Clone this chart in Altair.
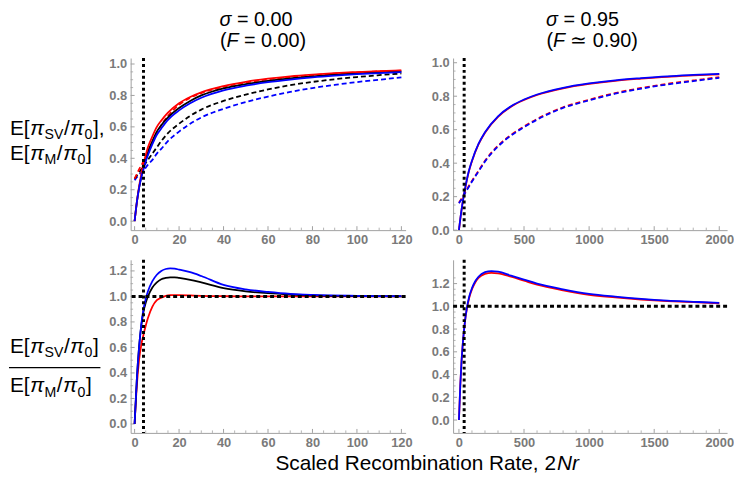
import altair as alt
import pandas as pd

# ---------------- data ----------------
# sigma = 0.00, top panel: E[pi/pi0]
x_tl = [0, 1, 2, 3, 4, 5, 6, 8, 10, 12, 15, 20, 25, 30, 40, 50, 60, 70, 80, 90, 100, 110, 120]
tl_red_solid = [0, 0.12, 0.22, 0.30, 0.37, 0.42, 0.47, 0.54, 0.60, 0.64, 0.69, 0.75, 0.79, 0.82, 0.86, 0.887, 0.907, 0.922, 0.933, 0.942, 0.949, 0.955, 0.96]
tl_red_dash = [0.27, 0.30, 0.33, 0.355, 0.38, 0.41, 0.44, 0.50, 0.56, 0.61, 0.67, 0.74, 0.785, 0.815, 0.855, 0.882, 0.902, 0.917, 0.929, 0.939, 0.947, 0.953, 0.958]
tl_black_solid = [0, 0.12, 0.21, 0.28, 0.34, 0.39, 0.44, 0.51, 0.57, 0.61, 0.66, 0.72, 0.765, 0.80, 0.845, 0.872, 0.892, 0.908, 0.921, 0.932, 0.940, 0.947, 0.953]
tl_black_dash = [0.27, 0.29, 0.31, 0.33, 0.35, 0.37, 0.39, 0.43, 0.47, 0.51, 0.56, 0.62, 0.67, 0.71, 0.765, 0.805, 0.838, 0.865, 0.886, 0.903, 0.917, 0.929, 0.94]
tl_blue_solid = [0, 0.12, 0.21, 0.28, 0.33, 0.38, 0.42, 0.49, 0.55, 0.59, 0.645, 0.705, 0.75, 0.785, 0.832, 0.862, 0.884, 0.901, 0.915, 0.926, 0.935, 0.942, 0.948]
tl_blue_dash = [0.26, 0.28, 0.295, 0.31, 0.325, 0.34, 0.36, 0.39, 0.43, 0.46, 0.51, 0.57, 0.62, 0.66, 0.715, 0.758, 0.793, 0.822, 0.847, 0.867, 0.885, 0.90, 0.915]

# sigma = 0.95, top panel
x_tr = [0, 10, 25, 50, 75, 100, 150, 200, 300, 400, 500, 600, 800, 1000, 1200, 1400, 1600, 1800, 2000]
tr_red_solid = [0, 0.064, 0.147, 0.257, 0.347, 0.412, 0.512, 0.582, 0.677, 0.737, 0.777, 0.807, 0.847, 0.873, 0.892, 0.905, 0.916, 0.924, 0.931]
tr_blue_solid = [0, 0.066, 0.15, 0.26, 0.35, 0.415, 0.515, 0.585, 0.68, 0.74, 0.78, 0.81, 0.85, 0.876, 0.895, 0.908, 0.919, 0.927, 0.934]
tr_red_dash = [0.164, 0.176, 0.194, 0.229, 0.262, 0.294, 0.354, 0.414, 0.504, 0.569, 0.619, 0.664, 0.734, 0.779, 0.819, 0.849, 0.874, 0.894, 0.914]
tr_blue_dash = [0.16, 0.172, 0.19, 0.225, 0.258, 0.29, 0.35, 0.41, 0.50, 0.565, 0.615, 0.66, 0.73, 0.775, 0.815, 0.845, 0.87, 0.89, 0.91]

# sigma = 0.00, bottom panel: ratio
x_bl = [0, 1, 2, 3, 4, 5, 6, 8, 10, 12, 14, 16, 18, 20, 25, 30, 40, 50, 60, 70, 80, 100, 120]
bl_blue = [0, 0.35, 0.60, 0.78, 0.90, 0.98, 1.04, 1.12, 1.17, 1.20, 1.215, 1.22, 1.218, 1.21, 1.19, 1.16, 1.09, 1.055, 1.035, 1.02, 1.012, 1.005, 1.002]
bl_black = [0, 0.35, 0.60, 0.77, 0.88, 0.95, 1.00, 1.07, 1.11, 1.135, 1.145, 1.15, 1.15, 1.145, 1.13, 1.11, 1.065, 1.04, 1.025, 1.015, 1.008, 1.003, 1.001]
bl_red = [0, 0.30, 0.50, 0.62, 0.70, 0.77, 0.83, 0.92, 0.97, 0.99, 1.005, 1.01, 1.01, 1.01, 1.008, 1.005, 1.002, 1.0, 1.0, 1.0, 1.0, 1.0, 1.0]

# sigma = 0.95, bottom panel
x_br = [0, 10, 20, 30, 40, 50, 60, 80, 100, 125, 150, 200, 250, 300, 400, 500, 600, 800, 1000, 1200, 1400, 1600, 1800, 2000]
br_blue = [0, 0.30, 0.52, 0.68, 0.80, 0.90, 0.98, 1.09, 1.16, 1.22, 1.26, 1.30, 1.31, 1.305, 1.27, 1.235, 1.20, 1.15, 1.11, 1.085, 1.065, 1.05, 1.04, 1.03]
br_red = [0, 0.30, 0.52, 0.68, 0.80, 0.90, 0.97, 1.08, 1.15, 1.21, 1.25, 1.285, 1.295, 1.29, 1.26, 1.225, 1.19, 1.14, 1.10, 1.078, 1.06, 1.046, 1.036, 1.027]

vline_left = [4]
vline_right = [40]
hline_ratio = [1.0]

ticks_x_left = [0, 20, 40, 60, 80, 100, 120]
ticks_x_left_minor = [5, 10, 15, 25, 30, 35, 45, 50, 55, 65, 70, 75, 85, 90, 95, 105, 110, 115]
ticks_x_right = [0, 500, 1000, 1500, 2000]
ticks_x_right_minor = [100, 200, 300, 400, 600, 700, 800, 900, 1100, 1200, 1300, 1400, 1600, 1700, 1800, 1900]
ticks_y_top = [0.0, 0.2, 0.4, 0.6, 0.8, 1.0]
ticks_y_bot = [0.0, 0.2, 0.4, 0.6, 0.8, 1.0, 1.2]
ticks_y_minor_top = [0.05, 0.1, 0.15, 0.25, 0.3, 0.35, 0.45, 0.5, 0.55, 0.65, 0.7, 0.75, 0.85, 0.9, 0.95]
ticks_y_minor_bot = ticks_y_minor_top + [1.05, 1.1, 1.15, 1.25]

FONT = "Liberation Sans"
RED = "#ff0000"
BLUE = "#0000ff"
BLACK = "#000000"
GRAY = "#a0a0a0"

one = pd.DataFrame({"a": [0]})

W = {'E': .667, '[': .278, ']': .278, '/': .278, ',': .278, 'S': .667, 'V': .667, 'M': .833,
     '0': .556, 'π': .66, '(': .333, ')': .333, 'F': .611, '=': .584, ' ': .278, '.': .278,
     '9': .556, '5': .556, 'σ': .58, '≃': .584, '2': .556, 'N': .722, 'r': .333}


def txt(t, x, y, size, italic=False, align="left"):
    return alt.Chart(one).mark_text(
        text=t, font=FONT, fontSize=size,
        fontStyle="italic" if italic else "normal",
        align=align, baseline="middle", color="black",
    ).encode(x=alt.value(x), y=alt.value(y))


def segs(pieces, x0, yc, size):
    charts = []
    x = x0
    for t, it, sub in pieces:
        fs = size * 0.68 if sub else size
        dy = size * 0.3 if sub else 0
        charts.append(txt(t, x, yc + dy, fs, it))
        x += sum(W.get(c, .556) for c in t) * fs + 0.6
    return charts, x


def panel(w, h, xd, yd, xmaj, xmin, ymaj, ymin, series, vx, hy=None, extra=None):
    xs = alt.Scale(domain=xd, nice=False, zero=False)
    ys = alt.Scale(domain=yd, nice=False, zero=False)
    xax = alt.Axis(values=xmaj, format="d", title=None)
    yax = alt.Axis(values=ymaj, format=".1f", title=None)
    layers = []
    layers.append(alt.Chart(pd.DataFrame({"x": xmaj})).mark_rule(color=GRAY, strokeWidth=1)
                  .encode(x=alt.X("x:Q", scale=xs, axis=xax), y=alt.value(h), y2=alt.value(h - 4)))
    layers.append(alt.Chart(pd.DataFrame({"x": xmin})).mark_rule(color=GRAY, strokeWidth=0.8)
                  .encode(x=alt.X("x:Q", scale=xs, axis=xax), y=alt.value(h), y2=alt.value(h - 2.5)))
    layers.append(alt.Chart(pd.DataFrame({"y": ymaj})).mark_rule(color=GRAY, strokeWidth=1)
                  .encode(y=alt.Y("y:Q", scale=ys, axis=yax), x=alt.value(0), x2=alt.value(4)))
    layers.append(alt.Chart(pd.DataFrame({"y": ymin})).mark_rule(color=GRAY, strokeWidth=0.8)
                  .encode(y=alt.Y("y:Q", scale=ys, axis=yax), x=alt.value(0), x2=alt.value(2.5)))
    for xv, yv, color, dash in series:
        df = pd.DataFrame({"x": xv, "y": yv})
        kw = dict(color=color, strokeWidth=1.8, interpolate="monotone", clip=True)
        if dash:
            kw["strokeDash"] = [5, 3]
        layers.append(alt.Chart(df).mark_line(**kw).encode(
            x=alt.X("x:Q", scale=xs, axis=xax), y=alt.Y("y:Q", scale=ys, axis=yax)))
    layers.append(alt.Chart(pd.DataFrame({"x": vx})).mark_rule(color="black", strokeWidth=3, strokeDash=[3, 3])
                  .encode(x=alt.X("x:Q", scale=xs, axis=xax)))
    if hy is not None:
        layers.append(alt.Chart(pd.DataFrame({"y": hy})).mark_rule(color="black", strokeWidth=3, strokeDash=[4, 3])
                      .encode(y=alt.Y("y:Q", scale=ys, axis=yax)))
    if extra:
        layers += extra
    return alt.layer(*layers).properties(width=w, height=h)


WL, WR = 278, 277
H1, H2 = 174, 175
TS = 20  # title font size
SP = 0.278 * TS
LS = 21  # row label font size

# --- column titles ---
title_l = [
    txt("σ", 102, -38, TS, True, "right"), txt("= 0.00", 102 + SP, -38, TS),
    txt("(", 97, -17, TS, False, "right"), txt("F", 97, -17, TS, True), txt("= 0.00)", 109 + SP, -17, TS),
]
title_r = [
    txt("σ", 106, -38, TS, True, "right"), txt("= 0.95", 106 + SP, -38, TS),
    txt("(", 101, -17, TS, False, "right"), txt("F", 101, -17, TS, True), txt("≃ 0.90)", 113 + SP, -17, TS),
]

# --- row labels ---
ylab1, _ = segs([("E[", False, False), ("π", True, False), ("SV", False, True), ("/", False, False),
                 ("π", True, False), ("0", False, True), ("],", False, False)], -122, 72, LS)
ylab2, _ = segs([("E[", False, False), ("π", True, False), ("M", False, True), ("/", False, False),
                 ("π", True, False), ("0", False, True), ("]", False, False)], -122, 97, LS)

num, xe = segs([("E[", False, False), ("π", True, False), ("SV", False, True), ("/", False, False),
                ("π", True, False), ("0", False, True), ("]", False, False)], -122, 88, LS)
den, _ = segs([("E[", False, False), ("π", True, False), ("M", False, True), ("/", False, False),
               ("π", True, False), ("0", False, True), ("]", False, False)], -122, 128, LS)
frac_line = alt.Chart(one).mark_rule(color="black", strokeWidth=1.3).encode(
    x=alt.value(-123), x2=alt.value(xe + 1), y=alt.value(109))

# --- shared x title (anchored inside the bottom-left panel) ---
xtitle = [txt("Scaled Recombination Rate, 2", 430, 207, 21, False, "right"),
          txt("Nr", 431, 207, 21, True)]

tl = panel(WL, H1, [-1.78, 121.9], [-0.057, 1.038], ticks_x_left, ticks_x_left_minor, ticks_y_top, ticks_y_minor_top,
           [(x_tl, tl_blue_dash, BLUE, True), (x_tl, tl_black_dash, BLACK, True), (x_tl, tl_red_dash, RED, True),
            (x_tl, tl_black_solid, BLACK, False), (x_tl, tl_red_solid, RED, False), (x_tl, tl_blue_solid, BLUE, False)],
           vline_left, extra=title_l + ylab1 + ylab2)
tr = panel(WR, H1, [-45, 2060], [0, 1.028], ticks_x_right, ticks_x_right_minor, ticks_y_top, ticks_y_minor_top,
           [(x_tr, tr_red_dash, RED, True), (x_tr, tr_blue_dash, BLUE, True),
            (x_tr, tr_red_solid, RED, False), (x_tr, tr_blue_solid, BLUE, False)],
           vline_right, extra=title_r)
bl = panel(WL, H2, [-1.78, 121.9], [-0.07, 1.287], ticks_x_left, ticks_x_left_minor, ticks_y_bot, ticks_y_minor_bot,
           [(x_bl, bl_red, RED, False), (x_bl, bl_black, BLACK, False), (x_bl, bl_blue, BLUE, False)],
           vline_left, hy=hline_ratio, extra=num + den + [frac_line] + xtitle)
br = panel(WR, H2, [-45, 2060], [-0.113, 1.409], ticks_x_right, ticks_x_right_minor, ticks_y_bot, ticks_y_minor_bot,
           [(x_br, br_red, RED, False), (x_br, br_blue, BLUE, False)],
           vline_right, hy=hline_ratio)

chart = alt.concat(
    tl, tr, bl, br, columns=2,
    spacing=alt.RowColnumber(row=30, column=48), bounds="flush",
).properties(padding=0).configure_view(stroke=None).configure_axis(
    domainColor=GRAY, domainWidth=1, ticks=False, grid=False,
    labelFont=FONT, labelFontWeight="bold", labelFontSize=13, labelColor="#7a7a7a", labelPadding=4,
)

chart.save("out.html", embed_options={"renderer": "svg", "actions": False})
